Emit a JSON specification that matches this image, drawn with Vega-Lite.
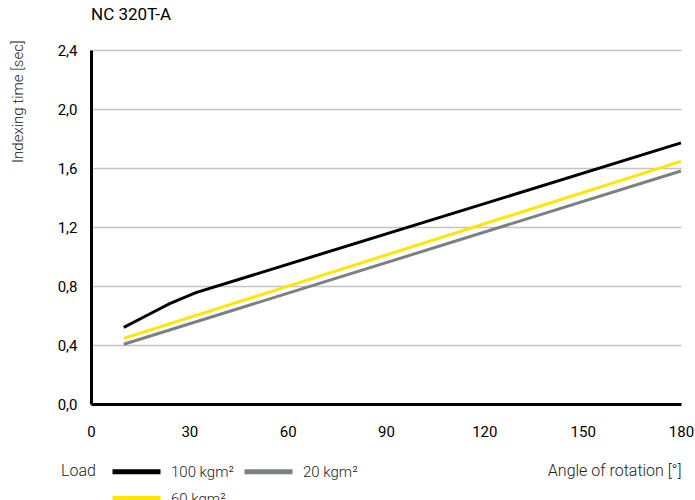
{
  "$schema": "https://vega.github.io/schema/vega-lite/v6.json",
  "width": 590,
  "height": 354,
  "autosize": "none",
  "padding": {"left": 91, "top": 50, "right": 14, "bottom": 96},
  "background": "white",
  "title": {
    "text": "NC 320T-A",
    "anchor": "start",
    "frame": "group",
    "font": "Roboto",
    "fontSize": 17,
    "fontWeight": "normal",
    "color": "#000000",
    "offset": 16
  },
  "config": {
    "view": {"stroke": null},
    "font": "Roboto"
  },
  "data": {
    "values": [
      {"angle": 10, "time": 0.52, "load": "100 kgm²"},
      {"angle": 17, "time": 0.6, "load": "100 kgm²"},
      {"angle": 24, "time": 0.68, "load": "100 kgm²"},
      {"angle": 32, "time": 0.755, "load": "100 kgm²"},
      {"angle": 180, "time": 1.77, "load": "100 kgm²"},
      {"angle": 10, "time": 0.445, "load": "60 kgm²"},
      {"angle": 180, "time": 1.645, "load": "60 kgm²"},
      {"angle": 10, "time": 0.405, "load": "20 kgm²"},
      {"angle": 180, "time": 1.58, "load": "20 kgm²"}
    ]
  },
  "mark": {"type": "line", "strokeWidth": 3},
  "encoding": {
    "x": {
      "field": "angle",
      "type": "quantitative",
      "scale": {"domain": [0, 180], "nice": false, "zero": false},
      "axis": {
        "values": [0, 30, 60, 90, 120, 150, 180],
        "grid": false,
        "ticks": false,
        "domainColor": "#000000",
        "domainWidth": 3,
        "labelFont": "Roboto",
        "labelFontSize": 15,
        "labelColor": "#000000",
        "labelPadding": 20,
        "labelFlush": false,
        "title": "Angle of rotation [°]",
        "titleFont": "Roboto",
        "titleFontWeight": 300,
        "titleFontSize": 16,
        "titleColor": "#222222",
        "titleAnchor": "end",
        "titleAlign": "right",
        "titleX": 590,
        "titleY": 66,
        "titleBaseline": "middle"
      }
    },
    "y": {
      "field": "time",
      "type": "quantitative",
      "scale": {"domain": [0, 2.4], "nice": false},
      "axis": {
        "values": [0, 0.4, 0.8, 1.2, 1.6, 2.0, 2.4],
        "labelExpr": "replace(format(datum.value, '.1f'), '.', ',')",
        "grid": true,
        "gridColor": "#c4c4c4",
        "gridWidth": 1.5,
        "ticks": false,
        "domainColor": "#000000",
        "domainWidth": 3,
        "labelFont": "Roboto",
        "labelFontSize": 15,
        "labelColor": "#000000",
        "labelPadding": 14,
        "title": "Indexing time [sec]",
        "titleFont": "Roboto",
        "titleFontWeight": 300,
        "titleFontSize": 15,
        "titleColor": "#222222",
        "titleAngle": -90,
        "titleAnchor": "end",
        "titleAlign": "right",
        "titleBaseline": "middle",
        "titleX": -74,
        "titleY": -10
      }
    },
    "color": {
      "field": "load",
      "type": "nominal",
      "scale": {
        "domain": ["100 kgm²", "20 kgm²", "60 kgm²"],
        "range": ["#000000", "#7b8084", "#ffe600"]
      },
      "legend": {
        "orient": "none",
        "legendX": -30,
        "legendY": 413,
        "direction": "horizontal",
        "columns": 2,
        "title": "Load",
        "titleOrient": "left",
        "titleAnchor": "start",
        "titleFont": "Roboto",
        "titleFontWeight": 300,
        "titleFontSize": 16,
        "titleColor": "#222222",
        "titlePadding": 14,
        "titleBaseline": "top",
        "symbolType": "M-1,0H7",
        "symbolStrokeWidth": 5,
        "symbolSize": 144,
        "labelFont": "Roboto",
        "labelFontWeight": 300,
        "labelFontSize": 15,
        "labelColor": "#222222",
        "labelOffset": 44,
        "columnPadding": 0,
        "rowPadding": 6,
        "padding": 0
      }
    }
  }
}
